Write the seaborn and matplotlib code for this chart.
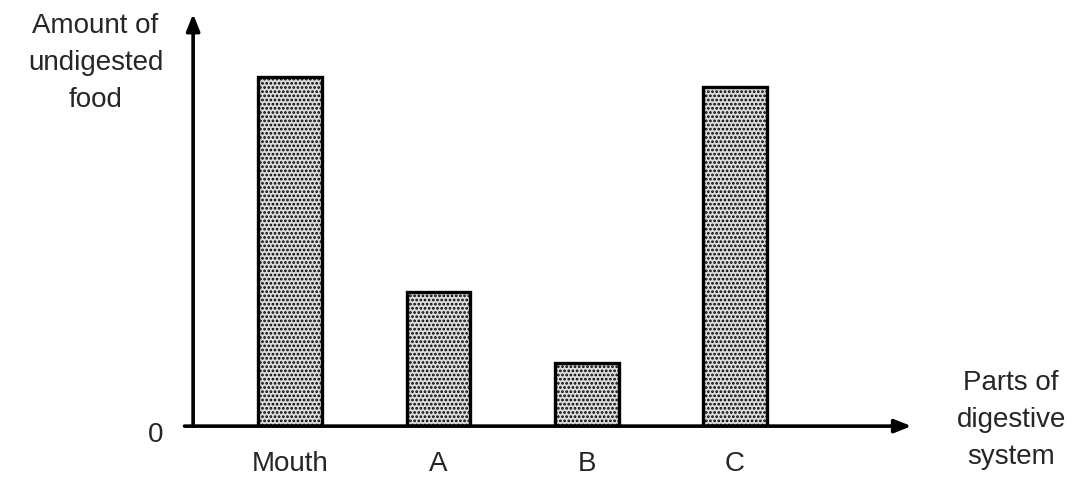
import matplotlib
matplotlib.use("Agg")
import matplotlib.pyplot as plt
import seaborn as sns
import pandas as pd

# Amount of undigested food along the digestive system
parts = ["Mouth", "A", "B", "C"]
amounts = [10.0, 3.85, 1.8, 9.7]

sns.set_style("white")
plt.rcParams["font.family"] = ["Liberation Sans", "DejaVu Sans"]
plt.rcParams["hatch.color"] = "#4a4a4a"
plt.rcParams["hatch.linewidth"] = 1.3

df = pd.DataFrame({"part": parts, "amount": amounts})

fig = plt.figure(figsize=(10.85, 4.81), dpi=100)
ax = fig.add_axes([0.178, 0.112, 0.662, 0.857])

sns.barplot(data=df, x="part", y="amount", order=parts, width=0.43,
            color="#dcdcdc", edgecolor="black", linewidth=2.4,
            saturation=1, ax=ax)
for p in ax.patches:
    p.set_hatch("....")
    p.set_edgecolor("black")

ax.set_xlim(-0.655, 4.19)
ax.set_ylim(0, 11.8)
for s in ax.spines.values():
    s.set_visible(False)
ax.set_yticks([])
ax.set_xticks(range(len(parts)))
ax.set_xticklabels(parts, fontsize=20)
ax.tick_params(axis="x", length=0, pad=17)
ax.set_xlabel("")
ax.set_ylabel("")

# axis arrows
arrow = dict(arrowstyle="-|>,head_length=1.0,head_width=0.4", lw=2.6,
             color="black", shrinkA=0, shrinkB=0)
ax.annotate("", xy=(0.0, 1.0), xytext=(0.0, 0.0), xycoords="axes fraction",
            arrowprops=arrow, annotation_clip=False)
ax.annotate("", xy=(1.0, 0.0), xytext=(-0.012, 0.0), xycoords="axes fraction",
            arrowprops=arrow, annotation_clip=False)

ax.text(-0.052, -0.02, "0", transform=ax.transAxes, fontsize=20,
        ha="center", va="center")
fig.text(0.088, 0.869, "Amount of\nundigested\nfood", fontsize=20,
         ha="center", va="center", linespacing=1.55)
fig.text(0.932, 0.127, "Parts of\ndigestive\nsystem", fontsize=20,
         ha="center", va="center", linespacing=1.55)

fig.savefig("out.png", dpi=100, facecolor="white")
